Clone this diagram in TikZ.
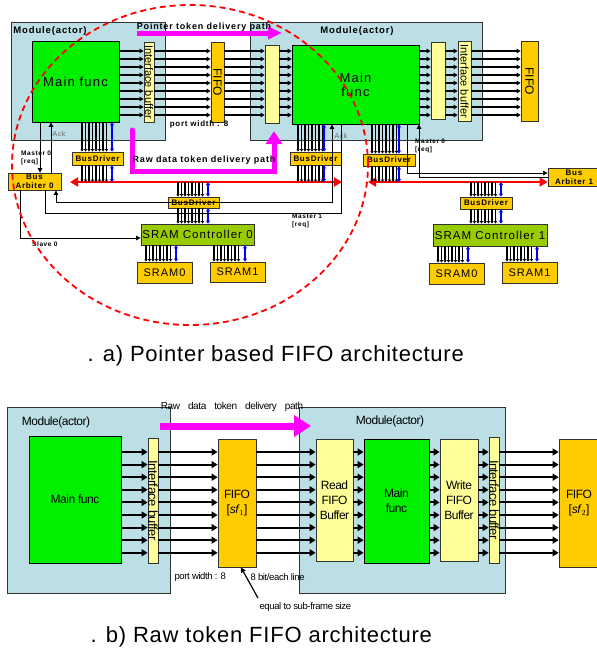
\documentclass[tikz,border=0pt]{standalone}
\usepackage{fontspec}
\setmainfont{Liberation Sans}
\newfontfamily\spaced[LetterSpace=9]{Liberation Sans}
\newfontfamily\narrow[LetterSpace=-4]{Liberation Sans}
\newfontfamily\capfont[LetterSpace=3.5]{Liberation Sans}
\usetikzlibrary{arrows.meta, positioning, calc}
\definecolor{cmod}{HTML}{BBDFE4}
\definecolor{cgreen}{HTML}{00F000}
\definecolor{cbuf}{HTML}{FFFF99}
\definecolor{cfifo}{HTML}{FFCC00}
\definecolor{clime}{HTML}{99CC00}
\definecolor{cmag}{HTML}{FF00FF}
\definecolor{cred}{HTML}{FF0000}
\definecolor{cblue}{HTML}{0000FF}
\newcommand{\fsz}[2]{\fontsize{#1}{#2}\selectfont}
% eight bus wires and the blue control pair between two nodes
\newcommand{\stub}[4]{%
  \foreach \k in {0,...,7}{%
    \pgfmathsetmacro{\xx}{#3+3.5*\k}
    \draw[wbus] (#1 -| \xx,0) -- (#2 -| \xx,0);}
  \draw[bbus] (#1 -| #4,0) -- (#2 -| #4,0);}
\tikzset{
  every picture/.style={x=1pt, y=-1pt},
  blk/.style={draw=black!80, fill=#1, inner sep=0pt, line width=0.8pt, align=center},
  blk/.default=cbuf,
  boxat/.style args={#1/#2/#3/#4}{minimum width={(#3-#1)*1pt}, minimum height={(#4-#2)*1pt},
    at={({(#1+#3)/2},{(#2+#4)/2})}},
  wire/.style={line width=1.3pt, -{Triangle[length=4pt, width=4.5pt]}},
  fat/.style={line width=1.9pt, -{Triangle[length=6pt, width=7pt]}},
  wbus/.style={line width=1.1pt, -{Triangle[length=2.5pt, width=3pt]}},
  bbus/.style={draw=cblue, line width=1.3pt, {Triangle[length=3pt, width=4pt]}-{Triangle[length=3pt, width=4pt]}},
  ctl/.style={line width=0.9pt},
  tip/.style={-{Triangle[length=4.5pt, width=4.5pt]}},
  redbus/.style={draw=cred, line width=2.6pt, {Triangle[length=8pt, width=9pt]}-{Triangle[length=8pt, width=9pt]}},
  tag/.style={font=\spaced\bfseries\fsz{6.5}{8}, inner sep=0pt, align=left},
}

\begin{document}
\begin{tikzpicture}[mag/.style={draw=cmag, line width=5pt, -{Triangle[length=14pt, width=12pt]}},
                    drv/.style={blk=cfifo, font=\spaced\bfseries\fsz{8}{9}},
                    mem/.style={blk=cfifo, font=\spaced\fsz{11}{12}},
                    captxt/.style={font=\capfont\fsz{22}{26}, anchor=west}]
  \useasboundingbox (0,0) rectangle (597,654);

  % a) pointer based FIFO
  \node[blk=cmod, boxat=11/22/165/140] (modA) {};
  \node[blk=cmod, boxat=250/22/482/140] (modB) {};
  \node[font=\spaced\bfseries\fsz{9.5}{11}] (lblA) at (50,31) {Module(actor)};
  \node[font=\spaced\bfseries\fsz{9.5}{11}] (lblB) at (357,31) {Module(actor)};
  \node[blk=cgreen, draw=black, font=\spaced\fsz{13}{14}, boxat=32/41/119/122] (mfA) {Main func};
  \node[blk, boxat=144/42/154/122] (ibA) {};
  \node[rotate=-90, font=\fsz{11}{12}] (ibAt) at (ibA.center) {Interface buffer};
  \node[blk=cfifo, boxat=211/42/224/122] (fifoA) {};
  \node[rotate=-90, font=\fsz{12}{12}] (fifoAt) at (fifoA.center) {FIFO};
  \node[blk, boxat=265/45/279/123] (bufB1) {};
  \node[blk=cgreen, draw=black, font=\spaced\fsz{13}{14}, boxat=292/45/419/124] (mfB) {Main\\func};
  \node[blk, boxat=431/42/445/119] (bufB2) {};
  \node[blk, boxat=458/41/471/121] (ibB) {};
  \node[rotate=-90, font=\fsz{11}{12}] (ibBt) at (ibB.center) {Interface buffer};
  \node[blk=cfifo, boxat=521/41/538/121] (fifoB) {};
  \node[rotate=-90, font=\fsz{12}{12}] (fifoBt) at (fifoB.center) {FIFO};

  \foreach \r in {0,...,8}{
    \pgfmathsetmacro{\yy}{51+8*\r}
    \draw[wire] (mfA.east |- 0,\yy) -- (ibA.west |- 0,\yy);
    \draw[wire] (ibA.east |- 0,\yy) -- (fifoA.west |- 0,\yy);
    \draw[wire] (fifoA.east |- 0,\yy) -- (bufB1.west |- 0,\yy);
    \draw[wire] (bufB1.east |- 0,\yy) -- (mfB.west |- 0,\yy);
    \draw[wire] (mfB.east |- 0,\yy) -- (bufB2.west |- 0,\yy);
    \draw[wire] (bufB2.east |- 0,\yy) -- (ibB.west |- 0,\yy);
    \draw[wire] (ibB.east |- 0,\yy) -- (fifoB.west |- 0,\yy);
  }
  \node[font=\spaced\bfseries\fsz{8}{9}] (pw) at (199,124) {port width : 8};

  % bus drivers, arbiters and memories
  \node[drv, boxat=72/152/123/165] (bdA) {BusDriver};
  \node[drv, boxat=290/152/341/165] (bdB1) {BusDriver};
  \node[drv, boxat=363/154/415/166] (bdB2) {BusDriver};
  \node[drv, boxat=168/197/219/208] (bdC0) {BusDriver};
  \node[drv, boxat=460/197/512/209] (bdC1) {BusDriver};
  \node[drv, boxat=8/173/61/190] (arb0) {Bus\\Arbiter 0};
  \node[drv, boxat=548/168/600/186] (arb1) {Bus\\Arbiter 1};
  \node[blk=clime, font=\spaced\fsz{11.5}{12}, boxat=141/224/254/245] (sc0) {SRAM Controller 0};
  \node[blk=clime, font=\spaced\fsz{11.5}{12}, boxat=433/224/547/246] (sc1) {SRAM Controller 1};
  \node[mem, boxat=137/262/192/283] (s00) {SRAM0};
  \node[mem, boxat=210/262/265/282] (s01) {SRAM1};
  \node[mem, boxat=429/263/484/284] (s10) {SRAM0};
  \node[mem, boxat=502/262/557/283] (s11) {SRAM1};

  \coordinate (b0w) at (70,182);
  \coordinate (b0e) at (342,182);
  \coordinate (b1w) at (368,182);
  \draw[redbus] (b0w) -- (b0e);
  \draw[redbus] (b1w) -- (arb1.west |- b1w);

  \stub{mfA.south}{bdA.north}{82}{112}
  \stub{bdA.south}{b0w}{82}{112}
  \stub{mfB.south}{bdB1.north}{298}{324}
  \stub{bdB1.south}{b0w}{298}{324}
  \stub{mfB.south}{bdB2.north}{372}{399}
  \stub{bdB2.south}{b1w}{372}{399}
  \stub{b0w}{bdC0.north}{178}{208}
  \stub{bdC0.south}{sc0.north}{178}{208}
  \stub{sc0.south}{s00.north}{146}{176}
  \stub{sc0.south}{s01.north}{214}{245}
  \stub{b1w}{bdC1.north}{471}{501}
  \stub{bdC1.south}{sc1.north}{471}{501}
  \stub{sc1.south}{s10.north}{438}{468}
  \stub{sc1.south}{s11.north}{507}{537}

  % request, acknowledge and slave lines
  \draw[ctl, tip] (mfA.south -| 40,0) -- (arb0.north -| 40,0);
  \draw[ctl, tip] (arb0.north -| 51,0) -- (mfA.south -| 51,0);
  \draw[ctl, tip] (arb0.south -| 20,0) |- (sc0.west |- 0,238);
  \draw[ctl, {Triangle[length=4.5pt, width=4.5pt]}-{Triangle[length=4.5pt, width=4.5pt]}]
    (arb0.south -| 56,0) -- (56,202) -- (332,202) -- (mfB.south -| 332,0);
  \draw[ctl] (arb0.south -| 45,0) -- (45,213) -- (341,213) -- (mfB.south -| 341,0);
  \draw[ctl, tip] (mfB.south -| 407,0) |- (arb1.west |- 0,173);
  \draw[ctl, tip] (arb1.west |- 0,177) -| (mfB.south -| 419,0);
  \node[tag, anchor=north west] (m0A) at (21,151) {Master 0\\{}[req]};
  \node[tag, anchor=north west] (m0B) at (415,139) {Master 0\\{}[req]};
  \node[tag, anchor=north west] (m1) at (292,214) {Master 1\\{}[req]};
  \node[tag, anchor=west] (sl0) at (32,244) {Slave 0};
  \node[font=\spaced\fsz{7}{8}, text=black!60] (ackA) at (59,134) {Ack};
  \node[font=\spaced\fsz{7}{8}, text=black!60] (ackB) at (341,136) {Ack};

  % delivery paths
  \coordinate (ptrS) at (137,33);
  \coordinate (ptrE) at (282,33);
  \draw[mag] (ptrS) -- (ptrE);
  \node[font=\spaced\bfseries\fsz{9}{10}] (ptrT) at (204,27) {Pointer token delivery path};
  \coordinate (rawS) at (132,130);
  \coordinate (rawE) at (274,131);
  \draw[mag, line cap=round, -{Triangle[length=13pt, width=16pt]}] (rawS) -- (132,171) -- (274,171) -- (rawE);
  \node[font=\spaced\bfseries\fsz{9}{10}] (rawT) at (204,160) {Raw data token delivery path};

  \draw[cred, line width=1.8pt, dash pattern=on 6pt off 4pt] (190,165) ellipse [x radius=178pt, y radius=160pt];
  \node[captxt] (capA) at (84,356) {. a) Pointer based FIFO architecture};

  % b) raw token FIFO
  \node[blk=cmod, boxat=7/407/170/593] (modC) {};
  \node[blk=cmod, boxat=299/407/505/593] (modD) {};
  \node[font=\narrow\fsz{12}{13}] (lblC) at (56,422) {Module(actor)};
  \node[font=\narrow\fsz{12}{13}] (lblD) at (390,421) {Module(actor)};
  \node[blk=cgreen, draw=black, font=\narrow\fsz{12}{14}, boxat=29/436/121/563] (mfC) {Main func};
  \node[blk, boxat=148/438/158/563] (ibC) {};
  \node[rotate=-90, font=\narrow\fsz{13}{13}] (ibCt) at (ibC.center) {Interface buffer};
  \node[blk=cfifo, font=\narrow\fsz{12}{15}, boxat=218/439/256/567] (fifoC) {FIFO\\{}[\textit{sf}$_1$]};
  \node[blk, font=\narrow\fsz{12}{15}, boxat=316/439/353/561] (rbD) {Read\\FIFO\\Buffer};
  \node[blk=cgreen, draw=black, font=\narrow\fsz{12}{15}, boxat=364/439/429/563] (mfD) {Main\\func};
  \node[blk, font=\narrow\fsz{12}{15}, boxat=440/439/478/561] (wbD) {Write\\FIFO\\Buffer};
  \node[blk, boxat=489/437/499/563] (ibD) {};
  \node[rotate=-90, font=\narrow\fsz{13}{13}] (ibDt) at (ibD.center) {Interface buffer};
  \node[blk=cfifo, font=\narrow\fsz{12}{15}, boxat=559/439/599/567] (fifoD) {FIFO\\{}[\textit{sf}$_2$]};

  \foreach \r in {0,...,8}{
    \pgfmathsetmacro{\yy}{452+12.6*\r}
    \draw[fat] (mfC.east |- 0,\yy) -- (ibC.west |- 0,\yy);
    \draw[fat] (ibC.east |- 0,\yy) -- (fifoC.west |- 0,\yy);
    \draw[fat] (fifoC.east |- 0,\yy) -- (rbD.west |- 0,\yy);
    \draw[fat] (rbD.east |- 0,\yy) -- (mfD.west |- 0,\yy);
    \draw[fat] (mfD.east |- 0,\yy) -- (wbD.west |- 0,\yy);
    \draw[fat] (wbD.east |- 0,\yy) -- (ibD.west |- 0,\yy);
    \draw[fat] (ibD.east |- 0,\yy) -- (fifoD.west |- 0,\yy);
  }
  \coordinate (rawS2) at (160,426);
  \coordinate (rawE2) at (311,426);
  \draw[draw=cmag, line width=7pt, -{Triangle[length=17pt, width=21pt]}] (rawS2) -- (rawE2);
  \node[font=\narrow\fsz{10}{11}] (rawT2) at (232,407) {\spaceskip=8pt Raw data token delivery path};
  \node[font=\narrow\fsz{9.5}{11}, anchor=west] (pw2) at (171,577) {port width : 8};
  \node[font=\narrow\fsz{9.5}{11}, anchor=west] (bits) at (247,577) {8 bit/each line};
  \node[font=\narrow\fsz{9.5}{11}, anchor=west] (eq) at (256,607) {equal to sub-frame size};
  \draw[line width=1.2pt, -{Triangle[length=5pt, width=5pt]}] (eq.north west) ++(2,-1) -- (fifoC.south -| 241,0);
  \node[captxt] (capB) at (87,637) {. b) Raw token FIFO architecture};
\end{tikzpicture}
\end{document}
